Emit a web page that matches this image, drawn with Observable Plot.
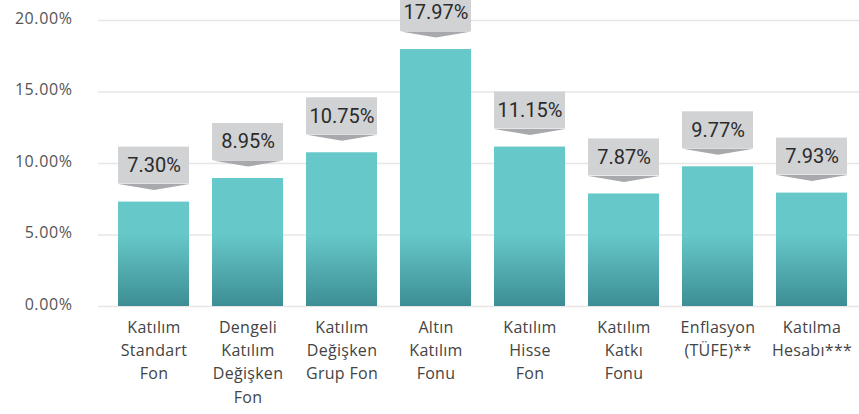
<!DOCTYPE html>
<html><head><meta charset="utf-8">
<script src="https://cdn.jsdelivr.net/npm/d3@7"></script>
<script src="https://cdn.jsdelivr.net/npm/@observablehq/plot@0.6"></script>
<style>
body{margin:0;background:#fff}
g[aria-label="y-axis tick label"] text{letter-spacing:0.6px}
g[aria-label="x-axis tick label"] text{letter-spacing:0.3px}
</style>
</head><body><div id="chart"></div>
<script>
const categories = ["Katılım\nStandart\nFon", "Dengeli\nKatılım\nDeğişken\nFon", "Katılım\nDeğişken\nGrup Fon", "Altın\nKatılım\nFonu", "Katılım\nHisse\nFon", "Katılım\nKatkı\nFonu", "Enflasyon\n(TÜFE)**", "Katılma\nHesabı***"];
const values = [7.30, 8.95, 10.75, 17.97, 11.15, 7.87, 9.77, 7.93];
const yTicks = [0, 5, 10, 15, 20];

const data = categories.map((c, i) => ({cat: c, value: values[i]}));
const pct = v => v.toFixed(2) + "%";

const pointer = {
  draw(ctx) {
    ctx.moveTo(-35.5, 0);
    ctx.lineTo(35.5, 0);
    ctx.lineTo(0, 6);
    ctx.closePath();
  }
};

const chart = Plot.plot({
  width: 859,
  height: 414,
  marginLeft: 106,
  marginRight: 0,
  marginTop: 20,
  marginBottom: 108,
  style: {fontFamily: "'Open Sans', sans-serif", background: "#fff"},
  x: {domain: categories, paddingInner: 0.245, paddingOuter: 0.1, label: null},
  y: {domain: [0, 20], label: null},
  marks: [
    Plot.ruleY(yTicks, {stroke: "#e6e6e6", strokeWidth: 1.5, insetLeft: -8}),
    Plot.axisY(yTicks, {tickSize: 0, tickPadding: 34, tickFormat: pct, fontSize: 16, color: "#555", dy: -2, label: null}),
    Plot.axisX({tickSize: 0, tickPadding: 10, fontSize: 16, lineHeight: 1.45, color: "#444", label: null}),
    Plot.barY(data, {x: "cat", y: "value", fill: "url(#barGrad)"}),
    Plot.barY(data, {x: "cat", y1: "value", y2: "value", insetTop: -37, dy: -18, fill: "#d1d2d4"}),
    Plot.dot(data, {x: "cat", y: "value", dy: -18, r: 1, symbol: pointer, fill: "#a8a9ac", stroke: null}),
    Plot.text(data, {x: "cat", y: "value", text: d => pct(d.value), dy: -36.5, fontSize: 20, fontFamily: "Roboto, sans-serif", fill: "#2b2b2b"})
  ]
});

const ys = chart.scale("y");
const y0 = ys.apply(0), yMid = ys.apply(5);
const defs = d3.select(chart).insert("defs", ":first-child");
const grad = defs.append("linearGradient").attr("id", "barGrad")
  .attr("gradientUnits", "userSpaceOnUse")
  .attr("x1", 0).attr("x2", 0).attr("y1", yMid).attr("y2", y0);
grad.append("stop").attr("offset", "0%").attr("stop-color", "#66c8c9");
grad.append("stop").attr("offset", "100%").attr("stop-color", "#3d8e94");

document.getElementById("chart").appendChild(chart);
</script>
</body></html>
